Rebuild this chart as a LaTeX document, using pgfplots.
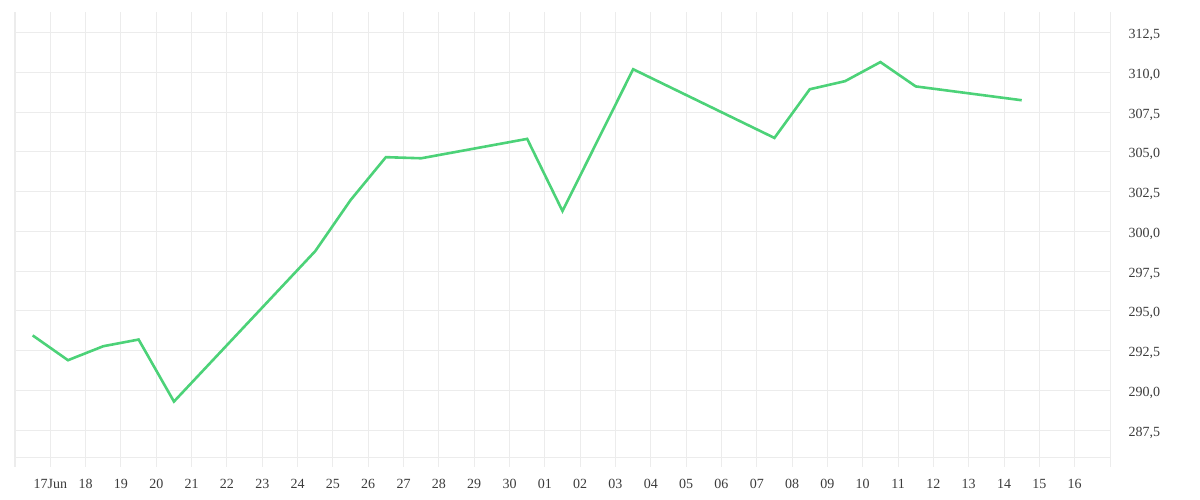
\documentclass[border=0pt]{standalone}
\usepackage{pgfplots}
\pgfplotsset{compat=1.18}
\usepackage{fontspec}
\setmainfont{Liberation Serif}
\definecolor{gridc}{RGB}{236,236,236}
\definecolor{linec}{RGB}{76,210,120}
\definecolor{textc}{RGB}{60,60,60}
\pgfplotstableread{
x y
-0.5 293.46
0.5 291.9
1.5 292.78
2.5 293.2
3.5 289.3
7.5 298.76
8.5 301.97
9.5 304.67
10.5 304.6
13.5 305.82
14.5 301.28
16.5 310.2
20.5 305.88
21.5 308.94
22.5 309.45
23.5 310.65
24.5 309.12
27.5 308.25
}\datatable
\begin{document}
\begin{tikzpicture}[x=1pt,y=1pt]
\path[use as bounding box] (0,0) rectangle (1200,500);
\begin{axis}[
  at={(15pt,42pt)}, anchor=south west,
  scale only axis, width=1095pt, height=446pt,
  xmin=-1, xmax=30, ymin=285.75, ymax=313.8,
  axis line style={draw=none},
  xtick={-1,0,...,30},
  xticklabels={,17Jun,18,19,20,21,22,23,24,25,26,27,28,29,30,01,02,03,04,05,06,07,08,09,10,11,12,13,14,15,16,},
  ytick={287.5,290,...,312.5},
  yticklabel pos=right,
  xtick pos=bottom,
  tick align=outside,
  major tick length=9pt,
  x tick style={draw=gridc, line width=1pt},
  y tick style={draw=none},
  grid=major,
  major grid style={draw=gridc, line width=1pt},
  extra y ticks={285.75},
  extra y tick labels={},
  extra y tick style={grid=major, major tick length=0pt},
  /pgf/number format/.cd, fixed, fixed zerofill, precision=1, use comma, 1000 sep={}, assume math mode=true,
  /pgfplots/.cd,
  tick label style={font=\fontsize{14}{16}\selectfont, text=textc},
  yticklabel style={anchor=west, xshift=6pt, yshift=-2.5pt},
  xticklabel style={yshift=-9pt},
]
\addplot[linec, line width=2.6pt, line join=miter] table[x=x,y=y] {\datatable};
\end{axis}
\end{tikzpicture}
\end{document}
